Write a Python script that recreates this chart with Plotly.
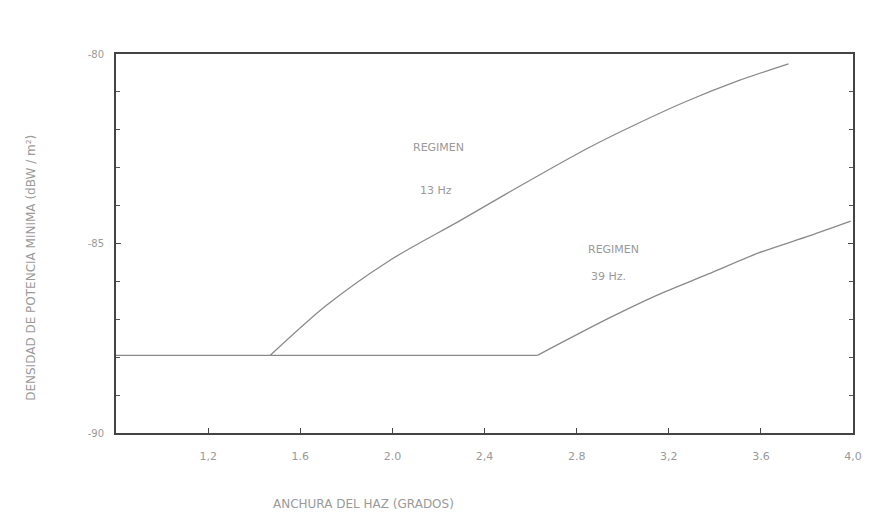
import plotly.graph_objects as go

# values
x_flat = [0.8, 1.47, 2.63]
y_flat = [-87.95, -87.95, -87.95]

x_13hz = [1.47, 1.71, 1.99, 2.29, 2.50, 2.85, 3.07, 3.28, 3.50, 3.72]
y_13hz = [-87.95, -86.65, -85.44, -84.41, -83.67, -82.48, -81.82, -81.24, -80.71, -80.26]

x_39hz = [2.63, 2.94, 3.15, 3.37, 3.59, 3.81, 3.99]
y_39hz = [-87.95, -86.97, -86.36, -85.81, -85.25, -84.80, -84.41]

x_ticks = [1.2, 1.6, 2.0, 2.4, 2.8, 3.2, 3.6, 4.0]
x_ticktext = ["1,2", "1.6", "2.0", "2,4", "2.8", "3,2", "3.6", "4,0"]
y_ticks = [-90, -85, -80]
y_ticktext = ["-90", "-85", "-80"]

line_col = "#8a8a8a"
text_col = "#9a9a9a"
font_fam = "DejaVu Sans, sans-serif"

fig = go.Figure()
for xs, ys in [(x_flat, y_flat), (x_13hz, y_13hz), (x_39hz, y_39hz)]:
    fig.add_scatter(x=xs, y=ys, mode="lines",
                    line=dict(color=line_col, width=1.3, shape="spline", smoothing=0.8),
                    showlegend=False, hoverinfo="skip")

notes = [
    (2.20, -82.48, "REGIMEN"),
    (2.19, -83.61, "13 Hz"),
    (2.96, -85.15, "REGIMEN"),
    (2.94, -85.86, "39 Hz."),
]
for ax, ay, t in notes:
    fig.add_annotation(x=ax, y=ay, text=t, showarrow=False,
                       font=dict(size=11, color=text_col, family=font_fam))

# axis titles placed where the scan has them
fig.add_annotation(xref="paper", yref="paper", x=0.336, y=-0.211, text="ANCHURA DEL HAZ (GRADOS)",
                   showarrow=False, font=dict(size=12, color=text_col, family=font_fam))
fig.add_annotation(xref="paper", yref="paper", x=-0.128, y=0.435, textangle=-90,
                   text="DENSIDAD DE POTENCIA MINIMA (dBW / m²)",
                   showarrow=False, font=dict(size=12, color=text_col, family=font_fam))

fig.update_xaxes(range=[0.8, 4.0], tickvals=x_ticks, ticktext=x_ticktext,
                 ticks="inside", ticklen=5, tickcolor="#444", showgrid=False, zeroline=False,
                 showline=True, mirror=True, linecolor="#444", linewidth=2,
                 tickfont=dict(size=11, color=text_col, family=font_fam), ticklabelstandoff=12)
fig.update_yaxes(range=[-90, -80], tickvals=y_ticks, ticktext=y_ticktext,
                 ticks="inside", ticklen=5, tickcolor="#444", showgrid=False, zeroline=False,
                 showline=True, mirror="ticks", linecolor="#444", linewidth=2,
                 minor=dict(dtick=1, ticks="inside", ticklen=4, tickcolor="#555"),
                 tickfont=dict(size=10, color=text_col, family=font_fam), ticklabelstandoff=8)

fig.update_layout(width=870, height=519, margin=dict(l=108, r=25, t=46, b=94),
                  paper_bgcolor="white", plot_bgcolor="white")

fig.write_html("out.html")
